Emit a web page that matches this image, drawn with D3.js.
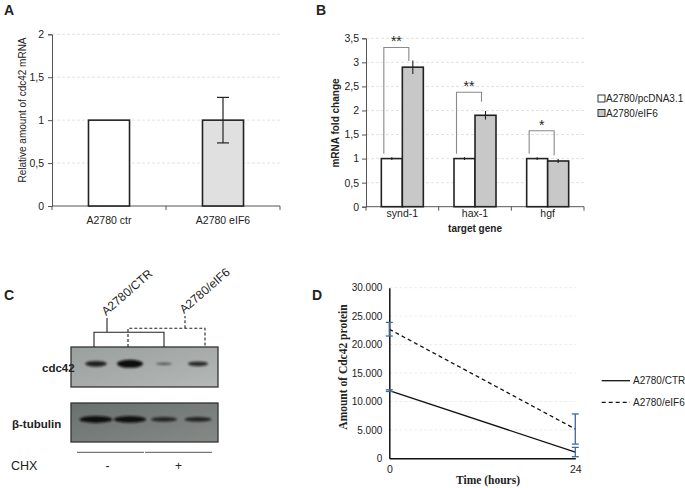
<!DOCTYPE html>
<html>
<head>
<meta charset="utf-8">
<script src="https://cdn.jsdelivr.net/npm/d3@7"></script>
<style>
  body { margin: 0; background: #fff; }
  svg { display: block; }
  text { font-family: "Liberation Sans", Arial, sans-serif; fill: #222; }
  .serif { font-family: "Liberation Serif", "Times New Roman", serif; }
</style>
</head>
<body>
<svg id="fig" width="685" height="488"></svg>
<script>
/*
Data
*/

// Panel A - relative cdc42 mRNA
const aGroups = ["A2780 ctr", "A2780 eIF6"];
const aValues = [1, 1];
const aErrors = [0, 0.265];
const aTicks  = [0, 0.5, 1, 1.5, 2];

// Panel B - mRNA fold change per target gene
const bGenes   = ["synd-1", "hax-1", "hgf"];
const bSeries  = ["A2780/pcDNA3.1", "A2780/eIF6"];
const bCtr     = [1, 1, 1];
const bEif6    = [2.9, 1.9, 0.95];
const bCtrErr  = [0.03, 0.03, 0.03];
const bEif6Err = [0.14, 0.09, 0.04];
const bStars   = ["**", "**", "*"];
const bBracketTop   = [3.31, 2.38, 1.58];
const bBracketLeft  = [1.1, 1.1, 1.1];
const bBracketRight = [3.03, 2.18, 1.07];
const bTicks   = [0, 0.5, 1, 1.5, 2, 2.5, 3, 3.5];

// Panel C - western blot (relative band intensity per lane)
const cLanes   = [1, 2, 3, 4];
const cCells   = ["A2780/CTR", "A2780/eIF6"];
const cCellLanes = [[1, 3], [2, 4]];
const cCdc42   = [0.65, 1.0, 0.12, 0.5];
const cTubulin = [1.0, 0.92, 0.45, 0.5];
const cChx     = ["-", "+"];
const cChxLanes = [[1, 2], [3, 4]];

// Panel D - Cdc42 protein over time
const dHours   = [0, 24];
const dCtr     = [11900, 1100];
const dCtrErr  = [150, 820];
const dEif6    = [22700, 5150];
const dEif6Err = [1200, 2650];
const dTicks   = [0, 5000, 10000, 15000, 20000, 25000, 30000];

/*
Helpers
*/

const svg = d3.select("#fig");
const comma = v => String(v).replace(".", ",");
const itLocale = d3.formatLocale({ decimal: ",", thousands: ".", grouping: [3], currency: ["", ""] });
const thousands = itLocale.format(",");

function panelLetter(x, y, s) {
  svg.append("text").attr("x", x).attr("y", y)
    .style("font-size", "14px").style("font-weight", "bold").text(s);
}

/*
Panel A
*/

panelLetter(4, 15, "A");

const ax = d3.scaleBand().domain(aGroups).range([52, 280])
  .paddingInner(0.64).paddingOuter(0.32);
const ay = d3.scaleLinear().domain([0, 2]).range([206, 34.3]);

const gA = svg.append("g");

gA.selectAll(".gridA").data(aTicks.slice(1)).enter().append("line")
  .attr("x1", 52).attr("x2", 280)
  .attr("y1", d => ay(d)).attr("y2", d => ay(d))
  .attr("stroke", "#e2e2e2").attr("stroke-dasharray", "3,2");

gA.append("g").attr("transform", "translate(52,0)")
  .call(d3.axisLeft(ay).tickValues(aTicks).tickFormat(comma).tickSize(4).tickPadding(4))
  .call(g => g.selectAll("path,line").attr("stroke", "#555"))
  .call(g => g.selectAll("text").style("font-size", "10.5px").attr("fill", "#222"));

gA.append("line").attr("x1", 52).attr("x2", 280).attr("y1", ay(0)).attr("y2", ay(0)).attr("stroke", "#555");
gA.selectAll(".tickA").data(d3.range(aGroups.length + 1)).enter().append("line")
  .attr("x1", i => 52 + i * ax.step()).attr("x2", i => 52 + i * ax.step())
  .attr("y1", ay(0)).attr("y2", ay(0) + 4).attr("stroke", "#555");

gA.selectAll(".barA").data(aGroups).enter().append("rect")
  .attr("x", d => ax(d)).attr("width", ax.bandwidth())
  .attr("y", (d, i) => ay(aValues[i])).attr("height", (d, i) => ay(0) - ay(aValues[i]))
  .attr("fill", (d, i) => i === 0 ? "#fff" : "#e0e0e0")
  .attr("stroke", "#222").attr("stroke-width", 1.6);

aGroups.forEach((d, i) => {
  if (!aErrors[i]) return;
  const cx = ax(d) + ax.bandwidth() / 2;
  const t = ay(aValues[i] + aErrors[i]), b = ay(aValues[i] - aErrors[i]);
  gA.append("line").attr("x1", cx).attr("x2", cx).attr("y1", t).attr("y2", b).attr("stroke", "#222").attr("stroke-width", 1.2);
  [t, b].forEach(yy => gA.append("line").attr("x1", cx - 6).attr("x2", cx + 6).attr("y1", yy).attr("y2", yy).attr("stroke", "#222").attr("stroke-width", 1.2));
});

gA.selectAll(".labA").data(aGroups).enter().append("text")
  .attr("x", d => ax(d) + ax.bandwidth() / 2).attr("y", 224)
  .attr("text-anchor", "middle").style("font-size", "10.5px").text(d => d);

gA.append("text").attr("transform", "translate(26,110) rotate(-90)")
  .attr("text-anchor", "middle").style("font-size", "10px").text("Relative amount of cdc42 mRNA");

/*
Panel B
*/

panelLetter(316, 15, "B");

const bx = d3.scaleBand().domain(bGenes).range([366, 584])
  .paddingInner(0.422).paddingOuter(0.211);
const bxs = d3.scaleBand().domain(bSeries).range([0, bx.bandwidth()]);
const by = d3.scaleLinear().domain([0, 3.5]).range([206.7, 38.3]);

const gB = svg.append("g");

gB.selectAll(".gridB").data(bTicks.slice(1)).enter().append("line")
  .attr("x1", 366).attr("x2", 584)
  .attr("y1", d => by(d)).attr("y2", d => by(d))
  .attr("stroke", "#e2e2e2").attr("stroke-dasharray", "3,2");

gB.append("g").attr("transform", "translate(366,0)")
  .call(d3.axisLeft(by).tickValues(bTicks).tickFormat(comma).tickSize(4).tickPadding(3))
  .call(g => g.selectAll("path,line").attr("stroke", "#555"))
  .call(g => g.selectAll("text").style("font-size", "10.5px").attr("fill", "#222"));

gB.append("line").attr("x1", 366).attr("x2", 584).attr("y1", by(0)).attr("y2", by(0)).attr("stroke", "#555");
gB.selectAll(".tickB").data(d3.range(bGenes.length + 1)).enter().append("line")
  .attr("x1", i => 366 + i * bx.step()).attr("x2", i => 366 + i * bx.step())
  .attr("y1", by(0)).attr("y2", by(0) + 4).attr("stroke", "#555");

const bRows = [];
bGenes.forEach((g, i) => {
  bRows.push({ gene: g, s: bSeries[0], v: bCtr[i], e: bCtrErr[i] });
  bRows.push({ gene: g, s: bSeries[1], v: bEif6[i], e: bEif6Err[i] });
});
const bFill = d3.scaleOrdinal().domain(bSeries).range(["#fff", "#c8c8c8"]);

gB.selectAll(".barB").data(bRows).enter().append("rect")
  .attr("x", d => bx(d.gene) + bxs(d.s)).attr("width", bxs.bandwidth())
  .attr("y", d => by(d.v)).attr("height", d => by(0) - by(d.v))
  .attr("fill", d => bFill(d.s)).attr("stroke", "#222").attr("stroke-width", 1.6);

gB.selectAll(".errB").data(bRows).enter().append("line")
  .attr("x1", d => bx(d.gene) + bxs(d.s) + bxs.bandwidth() / 2)
  .attr("x2", d => bx(d.gene) + bxs(d.s) + bxs.bandwidth() / 2)
  .attr("y1", d => by(d.v + d.e)).attr("y2", d => by(d.v - d.e))
  .attr("stroke", "#222").attr("stroke-width", 1.1);

bGenes.forEach((g, i) => {
  const xl = bx(g) + bxs(bSeries[0]) + bxs.bandwidth() / 2 - 8;
  const xr = bx(g) + bxs(bSeries[1]) + bxs.bandwidth() / 2 - 4;
  const yt = by(bBracketTop[i]);
  gB.append("path")
    .attr("d", `M${xl},${by(bBracketLeft[i])}V${yt}H${xr}V${by(bBracketRight[i])}`)
    .attr("fill", "none").attr("stroke", "#8a8a8a").attr("stroke-width", 1.1);
  gB.append("text").attr("x", (xl + xr) / 2).attr("y", yt - 1)
    .attr("text-anchor", "middle").style("font-size", "14px").text(bStars[i]);
});

gB.selectAll(".labB").data(bGenes).enter().append("text")
  .attr("x", d => bx(d) + bx.bandwidth() / 2).attr("y", 217)
  .attr("text-anchor", "middle").style("font-size", "10.5px").text(d => d);

gB.append("text").attr("x", 475).attr("y", 232)
  .attr("text-anchor", "middle").style("font-size", "10px").style("font-weight", "bold").text("target gene");

gB.append("text").attr("transform", "translate(339,123) rotate(-90)")
  .attr("text-anchor", "middle").style("font-size", "10px").style("font-weight", "bold").text("mRNA fold change");

const legB = gB.selectAll(".legB").data(bSeries).enter().append("g")
  .attr("transform", (d, i) => `translate(598,${95 + i * 14.5})`);
legB.append("rect").attr("width", 7).attr("height", 7)
  .attr("fill", d => bFill(d)).attr("stroke", "#222").attr("stroke-width", 0.9);
legB.append("text").attr("x", 8).attr("y", 7).style("font-size", "10px").text(d => d);

/*
Panel C
*/

panelLetter(4, 300, "C");

const gC = svg.append("g");
const cx = d3.scaleBand().domain(cLanes).range([79, 215]);
const laneX = l => cx(l) + cx.bandwidth() / 2;

const defs = svg.append("defs");
const gradTop = defs.append("linearGradient").attr("id", "blotTop").attr("x1", 0).attr("y1", 0).attr("x2", 1).attr("y2", 1);
gradTop.append("stop").attr("offset", 0).attr("stop-color", "#9aa09e");
gradTop.append("stop").attr("offset", 1).attr("stop-color", "#b4b8b6");
const gradBot = defs.append("linearGradient").attr("id", "blotBot").attr("x1", 0).attr("y1", 0).attr("x2", 1).attr("y2", 1);
gradBot.append("stop").attr("offset", 0).attr("stop-color", "#6a706e");
gradBot.append("stop").attr("offset", 1).attr("stop-color", "#858a87");
defs.append("filter").attr("id", "bandBlur").attr("x", "-30%").attr("y", "-100%").attr("width", "160%").attr("height", "300%")
  .append("feGaussianBlur").attr("stdDeviation", 0.9);

const blots = [
  { name: "cdc42", y: 347, h: 40, fill: "url(#blotTop)", vals: cCdc42, ty: 372, tx: 42,
    w: d3.scaleLinear().domain([0, 1]).range([14, 26]), t: d3.scaleLinear().domain([0, 1]).range([1.5, 8]) },
  { name: "\u03b2-tubulin", y: 403, h: 39, fill: "url(#blotBot)", vals: cTubulin, ty: 428, tx: 12,
    w: d3.scaleLinear().domain([0, 1]).range([20, 33]), t: d3.scaleLinear().domain([0, 1]).range([2.5, 7]) }
];

blots.forEach(b => {
  gC.append("rect").attr("x", 71).attr("y", b.y).attr("width", 147).attr("height", b.h)
    .attr("fill", b.fill).attr("stroke", "#333").attr("stroke-width", 1.3);
  gC.selectAll(null).data(cLanes).enter().append("ellipse")
    .attr("cx", (l) => laneX(l)).attr("cy", b.y + b.h * 0.42)
    .attr("rx", (l, i) => b.w(b.vals[i]) / 2).attr("ry", (l, i) => b.t(b.vals[i]) / 2)
    .attr("fill", "#0d0f0e").attr("opacity", (l, i) => 0.4 + 0.6 * Math.sqrt(b.vals[i]))
    .attr("filter", "url(#bandBlur)");
  gC.append("text").attr("x", b.tx).attr("y", b.ty)
    .style("font-size", "11.5px").style("font-weight", "bold").text(b.name);
});

// cell line brackets (solid for CTR, dashed for eIF6)
const cBr = [
  { top: 332.3, stem: 107, stemTop: 318, dash: null, extra: [-2, 0] },
  { top: 328.3, stem: 185, stemTop: 316, dash: "3,2", extra: [-2, 7] }
];
cCells.forEach((c, i) => {
  const [l1, l2] = cCellLanes[i];
  const x1 = laneX(l1) + cBr[i].extra[0], x2 = laneX(l2) + cBr[i].extra[1];
  gC.append("path")
    .attr("d", `M${x1},347V${cBr[i].top}H${x2}V347M${cBr[i].stem},${cBr[i].top}V${cBr[i].stemTop}`)
    .attr("fill", "none").attr("stroke", "#222").attr("stroke-width", 1.1)
    .attr("stroke-dasharray", cBr[i].dash);
  gC.append("text").attr("transform", `translate(${cBr[i].stem - 1},${cBr[i].stemTop - 2}) rotate(-41)`)
    .style("font-size", "12px").text(c);
});

// CHX treatment
cChx.forEach((s, i) => {
  const [l1, l2] = cChxLanes[i];
  const x1 = laneX(l1) - 19, x2 = laneX(l2) + 14;
  gC.append("line").attr("x1", x1).attr("x2", x2).attr("y1", 452.3).attr("y2", 452.3)
    .attr("stroke", "#555").attr("stroke-width", 1);
  gC.append("text").attr("x", (x1 + x2) / 2 - (i ? 0 : 3)).attr("y", 470)
    .attr("text-anchor", "middle").style("font-size", "12px").text(s);
});
gC.append("text").attr("x", 11).attr("y", 470).style("font-size", "12.5px").text("CHX");

/*
Panel D
*/

panelLetter(312, 300, "D");

const gD = svg.append("g");
const dx = d3.scaleLinear().domain([0, 24]).range([389.3, 575.3]);
const dy = d3.scaleLinear().domain([0, 30000]).range([458.3, 287.7]);

gD.selectAll(".gridD").data(dTicks.slice(1)).enter().append("line")
  .attr("x1", 389.3).attr("x2", 576)
  .attr("y1", d => dy(d)).attr("y2", d => dy(d))
  .attr("stroke", "#ececec").attr("stroke-dasharray", "3,2");

gD.append("g").attr("transform", "translate(389.3,0)")
  .call(d3.axisLeft(dy).tickValues(dTicks).tickFormat(thousands).tickSize(0).tickPadding(7))
  .call(g => g.select(".domain").attr("stroke", "#111").attr("stroke-width", 1.5))
  .call(g => g.selectAll("text").style("font-size", "10px").attr("fill", "#333"));

gD.append("g").attr("transform", `translate(0,${dy(0)})`)
  .call(d3.axisBottom(dx).tickValues(dHours).tickSize(0).tickPadding(7))
  .call(g => g.select(".domain").attr("stroke", "#111").attr("stroke-width", 1.5))
  .call(g => g.selectAll("text").style("font-size", "10.5px").attr("fill", "#2e5d93"));

const line = d3.line().x((d, i) => dx(dHours[i])).y(d => dy(d));
const dSeries = [
  { name: "A2780/CTR", vals: dCtr, err: dCtrErr, dash: null },
  { name: "A2780/eIF6", vals: dEif6, err: dEif6Err, dash: "4,3" }
];

dSeries.forEach((s, k) => {
  gD.append("path").attr("d", line(s.vals)).attr("fill", "none")
    .attr("stroke", "#111").attr("stroke-width", 1.3).attr("stroke-dasharray", s.dash);
  s.vals.forEach((v, i) => {
    const x = dx(dHours[i]);
    const t = dy(v + s.err[i]), b = dy(v - s.err[i]);
    gD.append("line").attr("x1", x).attr("x2", x).attr("y1", t).attr("y2", b)
      .attr("stroke", "#41699a").attr("stroke-width", 1.3);
    [t, b].forEach(yy => gD.append("line").attr("x1", x - 3.5).attr("x2", x + 3.5)
      .attr("y1", yy).attr("y2", yy).attr("stroke", "#41699a").attr("stroke-width", 1.3));
  });
  gD.append("line").attr("x1", 601.7).attr("x2", 630).attr("y1", 380.7 + k * 21.6).attr("y2", 380.7 + k * 21.6)
    .attr("stroke", "#111").attr("stroke-width", 1.3).attr("stroke-dasharray", s.dash);
  gD.append("text").attr("x", 633).attr("y", 384.3 + k * 21.6)
    .style("font-size", "10px").text(s.name);
});

gD.append("text").attr("class", "serif").attr("transform", "translate(347,367) rotate(-90)")
  .attr("text-anchor", "middle").style("font-size", "11.5px").style("font-weight", "bold")
  .text("Amount of Cdc42 protein");
gD.append("text").attr("class", "serif").attr("x", 488).attr("y", 484)
  .attr("text-anchor", "middle").style("font-size", "11.5px").style("font-weight", "bold")
  .text("Time (hours)");
</script>
</body>
</html>
